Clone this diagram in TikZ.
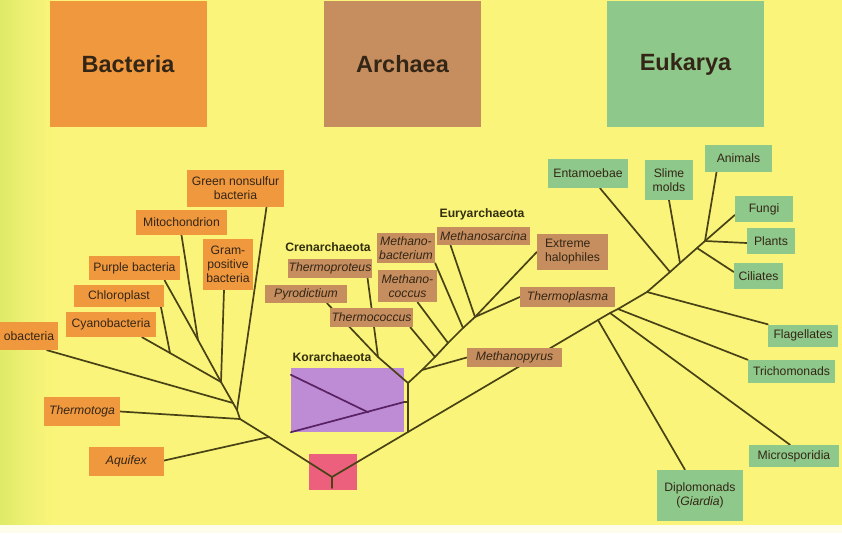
\documentclass[tikz,border=0pt]{standalone}
\usepackage{fontspec}
\setmainfont{Liberation Sans}
\usetikzlibrary{calc}

\definecolor{bgyellow}{RGB}{250,245,122}
\definecolor{bgedge}{RGB}{222,234,104}
\definecolor{bactorange}{RGB}{240,152,62}
\definecolor{archbrown}{RGB}{198,142,94}
\definecolor{eukgreen}{RGB}{142,200,138}
\definecolor{korpurple}{RGB}{190,140,212}
\definecolor{rootpink}{RGB}{236,96,126}
\definecolor{branchcol}{RGB}{72,66,22}
\definecolor{korline}{RGB}{88,34,100}
\definecolor{inktext}{RGB}{52,38,22}

\pgfdeclarelayer{back}
\pgfdeclarelayer{lines}
\pgfsetlayers{back,lines,main}

\begin{document}
\begin{tikzpicture}[x=1pt,y=-1pt,
  branch/.style={draw=branchcol,line width=1.7pt,line cap=round,line join=round},
  korbranch/.style={branch,draw=korline},
  taxon/.style={inner sep=1pt,align=center,text=inktext,font=\fontsize{12.2}{14}\selectfont},
  bact/.style={taxon,fill=bactorange},
  arch/.style={taxon,fill=archbrown},
  euk/.style={taxon,fill=eukgreen},
  wh/.style 2 args={minimum width=#1,minimum height=#2},
  domainbox/.style={fill=#1,minimum width=157pt,minimum height=126pt,text=inktext,font=\bfseries\fontsize{23.5}{26}\selectfont},
  cladename/.style={inner sep=0pt,text=branchcol!70!black,font=\bfseries\fontsize{12.2}{14}\selectfont}]
\useasboundingbox (0,0) rectangle (842,533);
\begin{pgfonlayer}{back}
\fill[bgyellow] (0,0) rectangle (842,533);
% greenish left edge, fading into the yellow
\foreach \i in {0,...,29}{
  \pgfmathsetmacro\pct{100*(1-\i/30)^1.5}
  \fill[bgedge!\pct!bgyellow] (2*\i,0) rectangle (2*\i+2.2,525);
}
\fill[white!85!bgyellow] (0,525) rectangle (842,533);
% coloured fields under the branches
\node[fill=rootpink,wh={48pt}{36pt}] (rootbox) at (333,472) {};
\node[fill=korpurple,wh={113pt}{64pt}] (korbox) at (347.5,400) {};
\end{pgfonlayer}
% ---------- three domains ----------
\node[domainbox=bactorange] (bacteria) at (128,64) {Bacteria};
\node[domainbox=archbrown] (archaea) at (402.5,64) {Archaea};
\node[domainbox=eukgreen] (eukarya) at (685.5,64) {Eukarya};
% ---------- Bacteria ----------
\node[bact,wh={97pt}{37pt}] (gns) at (235.5,188.5) {Green nonsulfur\\bacteria};
\node[bact,wh={91pt}{25pt}] (mito) at (181.5,222.5) {Mitochondrion};
\node[bact,wh={50pt}{51pt}] (gram) at (228,264.5) {Gram-\\positive\\bacteria};
\node[bact,wh={91pt}{24pt}] (purple) at (134.5,268) {Purple bacteria};
\node[bact,wh={90pt}{22pt}] (chloro) at (119,296) {Chloroplast};
\node[bact,wh={90pt}{25pt}] (cyano) at (111,324.5) {Cyanobacteria};
\node[bact,wh={58pt}{28pt}] (proteo) at (29,336) {obacteria};
\node[bact,wh={76pt}{29pt}] (thermotoga) at (82,411.5) {\textit{Thermotoga}};
\node[bact,wh={75pt}{29pt}] (aquifex) at (126.5,461.5) {\textit{Aquifex}};
\coordinate (root) at (332,477);
\coordinate (rootstem) at (332,488);
\coordinate (jb1) at (221,382);
\coordinate (jb2) at (237,410);
\coordinate (jb3) at (240,419);
\coordinate (jpro) at (233,403);
\coordinate (jaq) at (269,437);
\coordinate (jmito) at (198,340);
\coordinate (jchl) at (170,353);
\begin{pgfonlayer}{lines}
\draw[branch] (rootstem) -- (root) -- (jaq) -- (jb3) -- (jb2) -- (jpro) -- (jb1);
\draw[branch] ([xshift=30pt]purple.south) -- (jmito) -- (jb1);
\draw[branch] (mito.south) -- (jmito);
\draw[branch] ([xshift=-4pt]gram.south) -- (jb1);
\draw[branch] ([xshift=31pt]cyano.south) -- (jchl) -- (jb1);
\draw[branch] ([xshift=42pt]chloro.south) -- (jchl);
\draw[branch] ([xshift=18pt]proteo.south) -- (jpro);
\draw[branch] ([xshift=31pt]gns.south) -- (jb2);
\draw[branch] (thermotoga.east) -- (jb3);
\draw[branch] ([yshift=1pt]aquifex.east) -- (jaq);
\end{pgfonlayer}
% ---------- Archaea ----------
\node[cladename] (kor) at (332,357) {Korarchaeota};
\node[cladename] (cren) at (328,247) {Crenarchaeota};
\node[cladename] (eury) at (482,214) {Euryarchaeota};
\node[arch,wh={84pt}{19pt}] (tprot) at (330,268.5) {\textit{Thermoproteus}};
\node[arch,wh={82pt}{18pt}] (pyro) at (306,294) {\textit{Pyrodictium}};
\node[arch,wh={83pt}{19pt}] (tcoc) at (371.5,317.5) {\textit{Thermococcus}};
\node[arch,wh={58pt}{30pt}] (mbact) at (406,248) {\textit{Methano-}\\\textit{bacterium}};
\node[arch,wh={59pt}{32pt}] (mcoc) at (407.5,286) {\textit{Methano-}\\\textit{coccus}};
\node[arch,wh={93pt}{18pt}] (msarc) at (483.5,236) {\textit{Methanosarcina}};
\node[arch,wh={71pt}{36pt},align=left] (halo) at (572.5,252) {Extreme\\halophiles};
\node[arch,wh={95pt}{20pt}] (tplasma) at (567.5,297) {\textit{Thermoplasma}};
\node[arch,wh={95pt}{19pt}] (mpyrus) at (514.5,357.5) {\textit{Methanopyrus}};
\coordinate (jarc) at (408,432);
\coordinate (jkor) at (408,402);
\coordinate (ja0) at (408,383);
\coordinate (jcren) at (378,357);
\coordinate (jmpy) at (422,370);
\coordinate (jtc) at (435,357);
\coordinate (jmc) at (448,343);
\coordinate (jmb) at (463,328);
\coordinate (jeur) at (475,317);
\begin{pgfonlayer}{lines}
\draw[branch] (jarc) -- (jkor) -- (ja0) -- (jmpy) -- (jtc) -- (jmc) -- (jmb) -- (jeur);
\draw[branch] (ja0) -- (jcren);
\draw[branch] ([xshift=21pt]pyro.south) -- (jcren);
\draw[branch] ([xshift=-5pt]tprot.south east) -- (jcren);
\draw[branch] ([xshift=-3pt]tcoc.south east) -- (jtc);
\draw[branch] ([xshift=10pt]mcoc.south) -- (jmc);
\draw[branch] (mbact.south east) -- (jmb);
\draw[branch] ([xshift=-33pt]msarc.south) -- (jeur);
\draw[branch] (halo.west) -- (jeur);
\draw[branch] (tplasma.west) -- (jeur);
\draw[branch] (mpyrus.west) -- (jmpy);
% Korarchaeota inside the purple box
\draw[korbranch] (korbox.south west) -- (korbox.east |- jkor);
\draw[branch] (korbox.east |- jkor) -- (jkor);
\draw[korbranch] ([yshift=-7pt]korbox.north west) -- ($(korbox.south west)!0.66!(jkor)$);
\end{pgfonlayer}
% ---------- Eukarya ----------
\node[euk,wh={80pt}{29pt}] (entam) at (588,173.5) {Entamoebae};
\node[euk,wh={48pt}{40pt}] (slime) at (669,180) {Slime\\molds};
\node[euk,wh={67pt}{27pt}] (animals) at (738.5,158.5) {Animals};
\node[euk,wh={58pt}{26pt}] (fungi) at (764,209) {Fungi};
\node[euk,wh={48pt}{26pt}] (plants) at (771,241) {Plants};
\node[euk,wh={49pt}{26pt}] (ciliates) at (758.5,276) {Ciliates};
\node[euk,wh={70pt}{22pt}] (flag) at (803,335.5) {Flagellates};
\node[euk,wh={87pt}{23pt}] (tricho) at (791.5,371.5) {Trichomonads};
\node[euk,wh={90pt}{22pt}] (micro) at (794,456) {Microsporidia};
\node[euk,wh={86pt}{51pt}] (diplo) at (700,495.5) {Diplomonads\\(\textit{Giardia})};
\coordinate (jdip) at (598,320);
\coordinate (jmic) at (610,313);
\coordinate (jtri) at (618,309);
\coordinate (jflag) at (647,292);
\coordinate (jent) at (670,272);
\coordinate (jslime) at (680,263);
\coordinate (jcil) at (697,248);
\coordinate (jan) at (705,241);
\begin{pgfonlayer}{lines}
\draw[branch] (root) -- (jarc) -- (jdip) -- (jmic) -- (jtri) -- (jflag) -- (jent) -- (jslime) -- (jcil) -- (jan) -- ([yshift=-6pt]fungi.west);
\draw[branch] ([xshift=12pt]entam.south) -- (jent);
\draw[branch] (slime.south) -- (jslime);
\draw[branch] ([xshift=-22pt]animals.south) -- (jan);
\draw[branch] ([yshift=-2pt]plants.west) -- (jan);
\draw[branch] ([yshift=4pt]ciliates.west) -- (jcil);
\draw[branch] (flag.north west) -- (jflag);
\draw[branch] (tricho.north west) -- (jtri);
\draw[branch] ([xshift=-4pt]micro.north) -- (jmic);
\draw[branch] ([xshift=-15pt]diplo.north) -- (jdip);
\end{pgfonlayer}
\end{tikzpicture}
\end{document}
